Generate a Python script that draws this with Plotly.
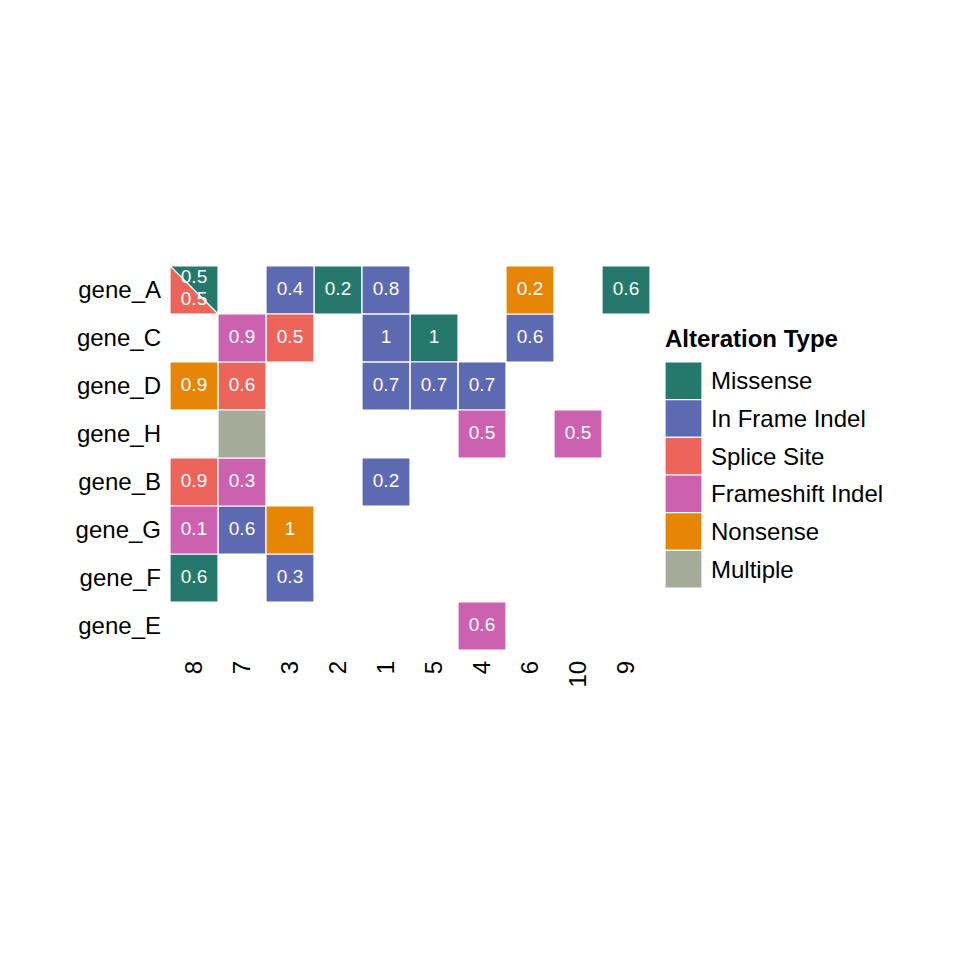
import plotly.graph_objects as go

# ---------------- data ----------------
samples = ["8", "7", "3", "2", "1", "5", "4", "6", "10", "9"]
genes = ["gene_A", "gene_C", "gene_D", "gene_H", "gene_B", "gene_G", "gene_F", "gene_E"]
alt_types = ["Missense", "In Frame Indel", "Splice Site", "Frameshift Indel", "Nonsense", "Multiple"]
alt_colors = ["#24796C", "#5D69B1", "#ED645A", "#CC61B0", "#E58606", "#A5AA99"]

cell_gene = ["gene_A", "gene_A", "gene_A", "gene_A", "gene_A", "gene_A", "gene_A",
             "gene_C", "gene_C", "gene_C", "gene_C", "gene_C",
             "gene_D", "gene_D", "gene_D", "gene_D", "gene_D",
             "gene_H", "gene_H", "gene_H",
             "gene_B", "gene_B", "gene_B",
             "gene_G", "gene_G", "gene_G",
             "gene_F", "gene_F",
             "gene_E"]
cell_sample = ["8", "8", "3", "2", "1", "6", "9",
               "7", "3", "1", "5", "6",
               "8", "7", "1", "5", "4",
               "7", "4", "10",
               "8", "7", "1",
               "8", "7", "3",
               "8", "3",
               "4"]
cell_type = ["Missense", "Splice Site", "In Frame Indel", "Missense", "In Frame Indel", "Nonsense", "Missense",
             "Frameshift Indel", "Splice Site", "In Frame Indel", "Missense", "In Frame Indel",
             "Nonsense", "Splice Site", "In Frame Indel", "In Frame Indel", "In Frame Indel",
             "Multiple", "Frameshift Indel", "Frameshift Indel",
             "Splice Site", "Frameshift Indel", "In Frame Indel",
             "Frameshift Indel", "In Frame Indel", "Nonsense",
             "Missense", "In Frame Indel",
             "Frameshift Indel"]
cell_value = [0.5, 0.5, 0.4, 0.2, 0.8, 0.2, 0.6,
              0.9, 0.5, 1.0, 1.0, 0.6,
              0.9, 0.6, 0.7, 0.7, 0.7,
              None, 0.5, 0.5,
              0.9, 0.3, 0.2,
              0.1, 0.6, 1.0,
              0.6, 0.3,
              0.6]

# ---------------- build geometry ----------------
W = 960
TEXT_FONT = "Liberation Sans, Arial, Helvetica, sans-serif"
AXIS_SIZE = 24
CELL_SIZE = 19

# group records per cell
cells = {}
for g, s, t, v in zip(cell_gene, cell_sample, cell_type, cell_value):
    cells.setdefault((g, s), []).append((t, v))

poly = {t: ([], []) for t in alt_types}
lab_x, lab_y, lab_t = [], [], []
for (g, s), recs in cells.items():
    xi = samples.index(s)
    yi = genes.index(g)
    x0, x1 = xi - 0.5, xi + 0.5
    yt, yb = yi - 0.5, yi + 0.5
    if len(recs) == 1:
        t, v = recs[0]
        px, py = poly[t]
        px += [x0, x1, x1, x0, x0, None]
        py += [yt, yt, yb, yb, yt, None]
        if v is not None:
            lab_x.append(xi); lab_y.append(yi); lab_t.append(f"{v:g}")
    else:
        (t1, v1), (t2, v2) = recs[0], recs[1]
        px, py = poly[t1]
        px += [x0, x1, x1, x0, None]
        py += [yt, yt, yb, yt, None]
        px, py = poly[t2]
        px += [x0, x0, x1, x0, None]
        py += [yt, yb, yb, yt, None]
        if v1 is not None:
            lab_x.append(xi); lab_y.append(yi - 0.24); lab_t.append(f"{v1:g}")
        if v2 is not None:
            lab_x.append(xi); lab_y.append(yi + 0.22); lab_t.append(f"{v2:g}")

fig = go.Figure()
for t, c in zip(alt_types, alt_colors):
    px, py = poly[t]
    if px:
        fig.add_trace(go.Scatter(x=px, y=py, mode="lines", fill="toself",
                                 fillcolor=c, line=dict(color="white", width=1.2),
                                 hoverinfo="skip", showlegend=False,
                                 xaxis="x", yaxis="y"))

fig.add_trace(go.Scatter(x=lab_x, y=lab_y, mode="text", text=lab_t,
                         textposition="middle center",
                         textfont=dict(color="white", size=CELL_SIZE, family=TEXT_FONT),
                         hoverinfo="skip", showlegend=False, xaxis="x", yaxis="y"))

# legend keys as a small tile column
for i, (t, c) in enumerate(zip(alt_types, alt_colors)):
    fig.add_trace(go.Scatter(x=[-0.5, 0.5, 0.5, -0.5, -0.5],
                             y=[i - 0.5, i - 0.5, i + 0.5, i + 0.5, i - 0.5],
                             mode="lines", fill="toself", fillcolor=c,
                             line=dict(color="white", width=1.2),
                             hoverinfo="skip", showlegend=False,
                             xaxis="x2", yaxis="y2"))

fig.update_layout(
    width=960, height=960,
    margin=dict(l=0, r=0, t=0, b=0),
    paper_bgcolor="white", plot_bgcolor="white",
    font=dict(family=TEXT_FONT, color="black"),
    xaxis=dict(domain=[170 / W, 650 / W], range=[-0.5, len(samples) - 0.5],
               tickmode="array", tickvals=list(range(len(samples))), ticktext=samples,
               tickangle=-90, tickfont=dict(size=AXIS_SIZE, color="black"),
               showgrid=False, zeroline=False, showline=False, ticks="",
               ticklabelstandoff=5, fixedrange=True),
    yaxis=dict(domain=[1 - 650 / W, 1 - 266 / W], range=[len(genes) - 0.5, -0.5],
               tickmode="array", tickvals=list(range(len(genes))), ticktext=genes,
               tickfont=dict(size=AXIS_SIZE, color="black"),
               showgrid=False, zeroline=False, showline=False, ticks="",
               ticklabelstandoff=8, fixedrange=True),
    xaxis2=dict(domain=[665 / W, 702 / W], range=[-0.5, 0.5], anchor="y2",
                showticklabels=False, showgrid=False, zeroline=False, showline=False,
                ticks="", fixedrange=True),
    yaxis2=dict(domain=[1 - 588 / W, 1 - 362 / W], range=[len(alt_types) - 0.5, -0.5],
                anchor="x2", side="right",
                tickmode="array", tickvals=list(range(len(alt_types))), ticktext=alt_types,
                tickfont=dict(size=AXIS_SIZE, color="black"),
                showgrid=False, zeroline=False, showline=False, ticks="",
                ticklabelstandoff=8, fixedrange=True),
    annotations=[dict(text="<b>Alteration Type</b>", xref="paper", yref="paper",
                      x=663 / W, y=1 - 338 / W, xanchor="left", yanchor="middle",
                      showarrow=False, font=dict(size=AXIS_SIZE, color="black"))],
)

fig.write_html("out.html")
